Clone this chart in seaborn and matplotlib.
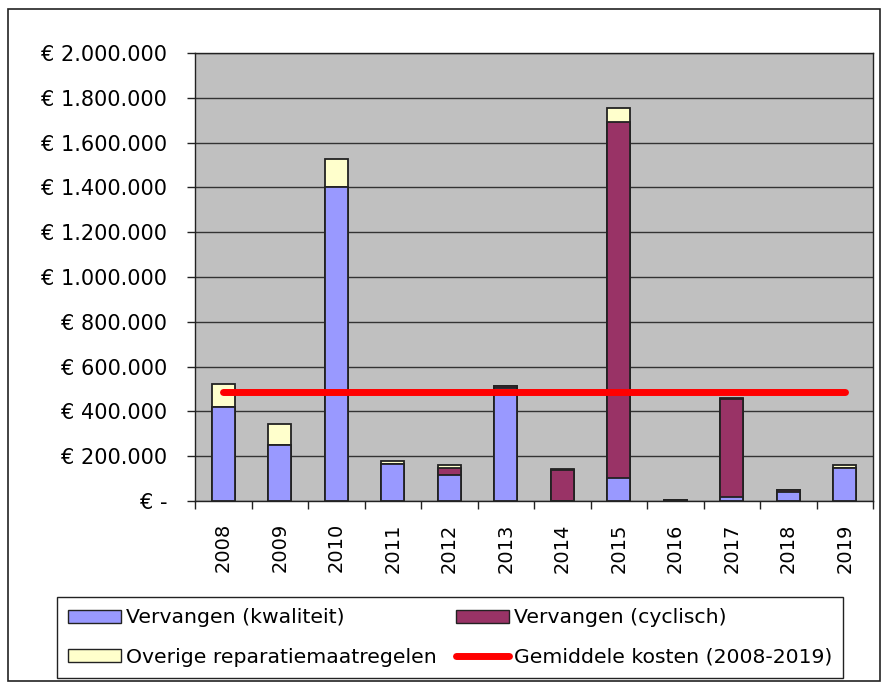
import numpy as np
import pandas as pd
import matplotlib
matplotlib.use("Agg")
import matplotlib.pyplot as plt
import matplotlib.patches as mpatches
import matplotlib.lines as mlines
import seaborn as sns

# =============================================================================
# DATA (in euro)
# =============================================================================

years = ["2008", "2009", "2010", "2011", "2012", "2013",
         "2014", "2015", "2016", "2017", "2018", "2019"]
kwaliteit = [420000, 250000, 1400000, 165000, 116000, 505000,
             0, 103000, 0, 18000, 40000, 147000]
cyclisch = [0, 0, 0, 0, 31000, 7000,
            138000, 1587000, 4000, 437000, 7000, 0]
overige = [102000, 94000, 128000, 13000, 14000, 0,
           4000, 65000, 0, 5000, 0, 14000]
gemiddelde = 487000

labels = ["Vervangen (kwaliteit)", "Vervangen (cyclisch)",
          "Overige reparatiemaatregelen", "Gemiddele kosten (2008-2019)"]
colors = ["#9999FF", "#993366", "#FFFFCC", "#FF0000"]
y_ticks = list(range(0, 2000001, 200000))

# =============================================================================
# PLOT
# =============================================================================

df = pd.DataFrame({"jaar": years, "kwal": kwaliteit,
                   "cyc": cyclisch, "over": overige})
df["l1"] = df["kwal"]
df["l2"] = df["kwal"] + df["cyc"]
df["l3"] = df["l2"] + df["over"]

sns.set_style("white")
plt.rcParams["font.family"] = ["DejaVu Sans"]
plt.rcParams["text.color"] = "black"
plt.rcParams["xtick.color"] = "black"
plt.rcParams["ytick.color"] = "black"

fig = plt.figure(figsize=(8.82, 6.82), dpi=100)
ax = fig.add_axes([195 / 882, 1 - 501 / 682, 678 / 882, 448 / 682])
ax.set_facecolor("#C0C0C0")
ax.set_axisbelow(True)
ax.yaxis.grid(True, color="#333333", linewidth=1)

# stacked bars: draw cumulative totals from top to bottom
for col, c in [("l3", colors[2]), ("l2", colors[1]), ("l1", colors[0])]:
    sns.barplot(data=df, x="jaar", y=col, color=c, saturation=1,
                width=0.41, edgecolor="#222222", linewidth=1.3, ax=ax)

# average line across the bar centres
ax.plot([0, len(years) - 1], [gemiddelde, gemiddelde],
        color=colors[3], linewidth=5, solid_capstyle="round", zorder=5)

ax.set_xlim(-0.5, len(years) - 0.5)
ax.set_ylim(0, 2000000)
ax.set_xlabel("")
ax.set_ylabel("")

# y axis labels in euro
ax.set_yticks(y_ticks)
ax.set_yticklabels(["€ -" if v == 0 else "€ " + f"{v:,.0f}".replace(",", ".")
                    for v in y_ticks], fontsize=15)
ax.tick_params(axis="y", length=6, width=1, color="#222222", pad=14,
               left=True)

# x ticks: marks on the category boundaries, labels in the middle
ax.set_xticks(np.arange(len(years) + 1) - 0.5)
ax.set_xticklabels([])
ax.tick_params(axis="x", which="major", length=6, width=1,
               color="#222222", bottom=True)
ax.set_xticks(np.arange(len(years)), minor=True)
ax.set_xticklabels(years, minor=True, rotation=90, fontsize=14)
ax.tick_params(axis="x", which="minor", length=0, pad=16)

for s in ax.spines.values():
    s.set_color("#222222")
    s.set_linewidth(1)

# legend
handles = [mpatches.Patch(facecolor=colors[0], edgecolor="#222222"),
           mpatches.Patch(facecolor=colors[1], edgecolor="#222222"),
           mpatches.Patch(facecolor=colors[2], edgecolor="#222222"),
           mlines.Line2D([], [], color=colors[3], linewidth=5)]
order = [0, 2, 1, 3]
leg = fig.legend([handles[i] for i in order], [labels[i] for i in order],
                 ncol=2, loc="upper left",
                 bbox_to_anchor=(57 / 882, 1 - 597 / 682),
                 fontsize=14.7, frameon=True, fancybox=False, framealpha=1,
                 edgecolor="#222222", handlelength=2.6, handleheight=0.6,
                 handletextpad=0.25, borderpad=0.55, labelspacing=1.0,
                 columnspacing=0.9, borderaxespad=0)
leg.get_frame().set_linewidth(1)

# outer chart border
fig.patches.append(mpatches.Rectangle((8 / 882, 1 / 682), 872 / 882, 672 / 682,
                                      transform=fig.transFigure, fill=False,
                                      edgecolor="#222222", linewidth=1.2))

fig.savefig("out.png", dpi=100)
